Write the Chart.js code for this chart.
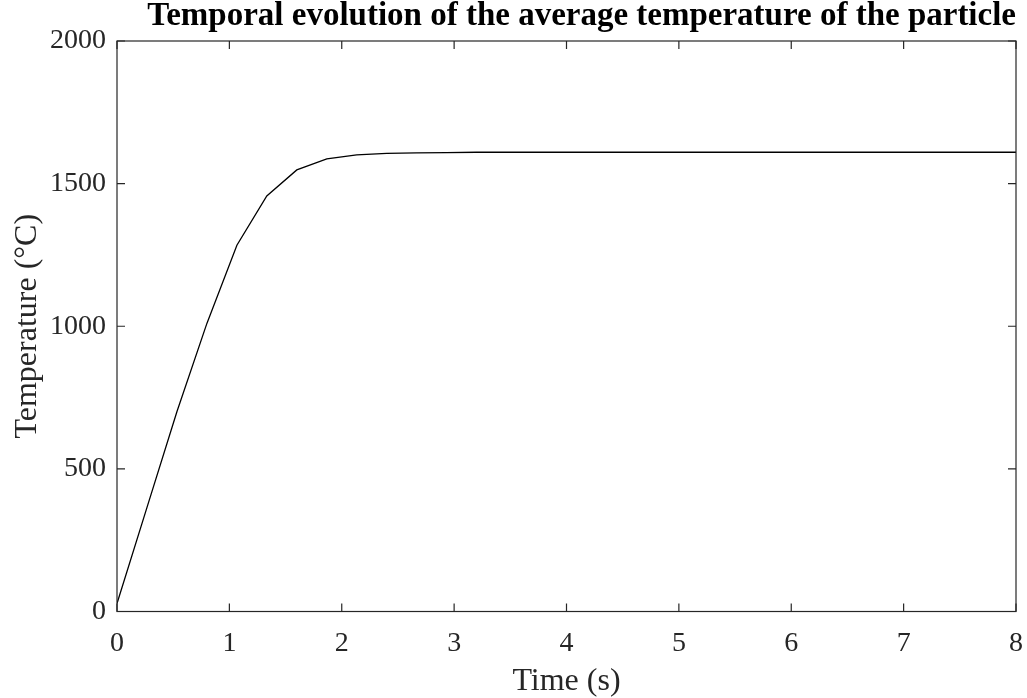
<!DOCTYPE html>
<html>
<head>
<meta charset="utf-8">
<script src="https://cdn.jsdelivr.net/npm/chart.js@4.4.1/dist/chart.umd.min.js"></script>
<style>
  html, body { margin: 0; padding: 0; background: #fff; }
  #wrap { width: 1027px; height: 698px; position: relative; }
</style>
</head>
<body>
<div id="wrap"><canvas id="c" width="1027" height="698"></canvas></div>
<script>
const timeS = [0, 0.267, 0.533, 0.8, 1.067, 1.333, 1.6, 1.867, 2.133, 2.4, 2.667, 2.933, 3.2, 3.467, 3.733, 4,
  4.267, 4.533, 4.8, 5.067, 5.333, 5.6, 5.867, 6.133, 6.4, 6.667, 6.933, 7.2, 7.467, 7.733, 8];
const temperatureC = [28, 365, 700, 1010, 1284, 1457, 1548, 1587, 1601, 1606, 1608, 1609, 1610, 1610, 1610, 1610,
  1610, 1610, 1610, 1610, 1610, 1610, 1610, 1610, 1610, 1610, 1610, 1610, 1610, 1610, 1610];
const xTicks = [0, 1, 2, 3, 4, 5, 6, 7, 8];
const yTicks = [0, 500, 1000, 1500, 2000];

const titleText = 'Temporal evolution of the average temperature of the particle';
const xTitle = 'Time (s)';
const yTitle = 'Temperature (\u00B0C)';

const axisColor = '#262626';
const fontFam = '"Liberation Serif", "Times New Roman", serif';

const boxTicks = {
  id: 'boxTicks',
  afterDraw(chart) {
    const { ctx, chartArea: a, scales } = chart;
    ctx.save();
    ctx.strokeStyle = axisColor;
    ctx.lineWidth = 1.2;
    ctx.strokeRect(a.left, a.top, a.right - a.left, a.bottom - a.top);
    const L = 8;
    ctx.beginPath();
    xTicks.forEach(v => {
      const px = scales.x.getPixelForValue(v);
      ctx.moveTo(px, a.bottom); ctx.lineTo(px, a.bottom - L);
      ctx.moveTo(px, a.top); ctx.lineTo(px, a.top + L);
    });
    yTicks.forEach(v => {
      const py = scales.y.getPixelForValue(v);
      ctx.moveTo(a.left, py); ctx.lineTo(a.left + L, py);
      ctx.moveTo(a.right, py); ctx.lineTo(a.right - L, py);
    });
    ctx.stroke();
    ctx.restore();
  }
};

new Chart(document.getElementById('c'), {
  type: 'line',
  data: {
    datasets: [{
      data: timeS.map((t, i) => ({ x: t, y: temperatureC[i] })),
      borderColor: '#000',
      borderWidth: 1.3,
      pointRadius: 0,
      tension: 0,
      fill: false
    }]
  },
  options: {
    responsive: false,
    animation: false,
    layout: { padding: { left: 0, right: 11, top: 0, bottom: 0 } },
    plugins: {
      legend: { display: false },
      tooltip: { enabled: false },
      title: {
        display: true,
        text: titleText,
        fullSize: false,
        align: 'end',
        color: '#000',
        font: { family: fontFam, size: 33, weight: 'bold', lineHeight: 1.0 },
        padding: { top: 0, bottom: 8 }
      }
    },
    scales: {
      x: {
        type: 'linear',
        min: 0, max: 8,
        afterBuildTicks(s) { s.ticks = xTicks.map(v => ({ value: v })); },
        afterFit(s) { s.height = 86.5; s.paddingLeft = 0; s.paddingRight = 0; },
        grid: { display: false, drawTicks: false },
        border: { display: false },
        ticks: {
          color: axisColor,
          padding: 15,
          font: { family: fontFam, size: 28 },
          maxRotation: 0,
          callback: v => String(v)
        },
        title: {
          display: true,
          text: xTitle,
          color: axisColor,
          font: { family: fontFam, size: 32, lineHeight: 1.0 },
          padding: { top: 0, bottom: 0 }
        }
      },
      y: {
        type: 'linear',
        min: 0, max: 2000,
        afterBuildTicks(s) { s.ticks = yTicks.map(v => ({ value: v })); },
        afterFit(s) { s.width = 117; s.paddingTop = 0; s.paddingBottom = 0; },
        grid: { display: false, drawTicks: false },
        border: { display: false },
        ticks: {
          color: axisColor,
          padding: 11,
          font: { family: fontFam, size: 28 },
          callback: v => String(v)
        },
        title: {
          display: true,
          text: yTitle,
          color: axisColor,
          font: { family: fontFam, size: 32 },
          padding: { top: 8, bottom: 0 }
        }
      }
    }
  },
  plugins: [boxTicks]
});
</script>
</body>
</html>
